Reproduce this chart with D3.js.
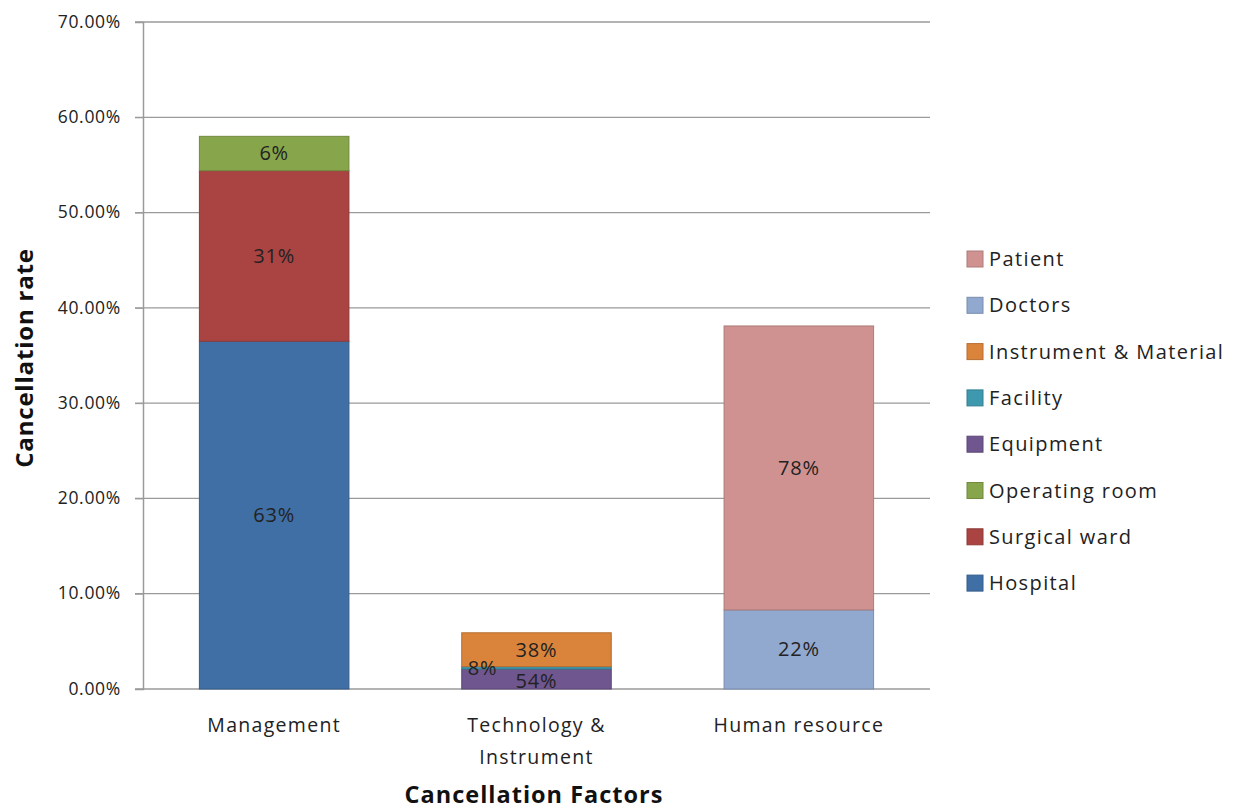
<!DOCTYPE html>
<html>
<head>
<meta charset="utf-8">
<script src="https://cdn.jsdelivr.net/npm/d3@7"></script>
<style>
  html, body { margin: 0; padding: 0; background: #fff; }
  svg { display: block; font-family: "Open Sans", "Liberation Sans", sans-serif; }
</style>
</head>
<body>
<svg id="chart" width="1239" height="812"></svg>
<script>
// ---- data ----
const categories = ["Management", "Technology & Instrument", "Human resource"];
const categoryLines = [["Management"], ["Technology &", "Instrument"], ["Human resource"]];
const seriesNames = ["Hospital", "Surgical ward", "Operating room", "Equipment", "Facility", "Instrument & Material", "Doctors", "Patient"];
const seriesColors = ["#3F6FA5", "#A94442", "#87A54B", "#6F568E", "#3E98AE", "#DA843B", "#91A8CF", "#CF9291"];
// values in percent, per category (order of categories)
const hospital      = [36.5, 0, 0];
const surgicalWard  = [17.9, 0, 0];
const operatingRoom = [3.6, 0, 0];
const equipment     = [0, 2.1, 0];
const facility      = [0, 0.25, 0];
const instrument    = [0, 3.55, 0];
const doctors       = [0, 0, 8.3];
const patient       = [0, 0, 29.8];
const seriesValues = [hospital, surgicalWard, operatingRoom, equipment, facility, instrument, doctors, patient];
// data labels (share within the category)
const seriesLabels = [
  ["63%", "", ""], ["31%", "", ""], ["6%", "", ""],
  ["", "54%", ""], ["", "8%", ""], ["", "38%", ""],
  ["", "", "22%"], ["", "", "78%"]
];
const yTicks = [0, 10, 20, 30, 40, 50, 60, 70];

// ---- layout ----
const svg = d3.select("#chart");
const margin = { left: 143, right: 930, top: 22, bottom: 689 };

const x = d3.scaleBand().domain(categories).range([margin.left, margin.right]).paddingInner(0.43).paddingOuter(0.215);
const y = d3.scaleLinear().domain([0, 70]).range([margin.bottom, margin.top]);

// gridlines
svg.append("g")
  .selectAll("line").data(yTicks).join("line")
  .attr("x1", margin.left - 8).attr("x2", margin.right)
  .attr("y1", d => y(d)).attr("y2", d => y(d))
  .attr("stroke", "#9a9a9a").attr("stroke-width", 1.3);

// y axis
const yAxis = d3.axisLeft(y).tickValues(yTicks).tickSize(8).tickFormat(d => d.toFixed(2) + "%");
const gy = svg.append("g").attr("transform", `translate(${margin.left},0)`).call(yAxis);
gy.select(".domain").attr("stroke", "#9a9a9a").attr("stroke-width", 1.5);
gy.selectAll(".tick line").attr("stroke", "#9a9a9a");
gy.selectAll("text").attr("font-size", 17.5).attr("letter-spacing", 0.7).attr("fill", "#222").attr("x", -22).attr("dy", "0.3em")
  .attr("font-family", "Open Sans, sans-serif");

// stacked data
const rows = categories.map((c, i) => {
  const r = { category: c };
  seriesNames.forEach((s, j) => r[s] = seriesValues[j][i]);
  return r;
});
const stack = d3.stack().keys(seriesNames);
const stacked = stack(rows);

const layers = svg.append("g").selectAll("g").data(stacked).join("g")
  .attr("fill", (d, i) => seriesColors[i])
  .attr("stroke", (d, i) => d3.color(seriesColors[i]).darker(0.5));

layers.selectAll("rect").data(d => d.filter(p => p[1] - p[0] > 0)).join("rect")
  .attr("x", d => x(d.data.category))
  .attr("width", x.bandwidth())
  .attr("y", d => y(d[1]))
  .attr("height", d => y(d[0]) - y(d[1]))
  .attr("stroke-width", 1);

// data labels
const labelOffsetX = { "8%": -54 };
const labelOffsetY = { "54%": 2 };
stacked.forEach((layer, j) => {
  layer.forEach((p, i) => {
    const t = seriesLabels[j][i];
    if (!t) return;
    svg.append("text")
      .attr("x", x(p.data.category) + x.bandwidth() / 2 + (labelOffsetX[t] || 0))
      .attr("y", (y(p[0]) + y(p[1])) / 2 + (labelOffsetY[t] || 0))
      .attr("dy", "0.35em")
      .attr("text-anchor", "middle")
      .attr("font-size", 20)
      .attr("letter-spacing", 0.8)
      .attr("fill", "#222")
      .text(t);
  });
});

// x category labels
categories.forEach((c, i) => {
  const t = svg.append("text")
    .attr("x", x(c) + x.bandwidth() / 2)
    .attr("y", 732)
    .attr("text-anchor", "middle")
    .attr("font-size", 19.5)
    .attr("letter-spacing", 1.3)
    .attr("fill", "#222");
  categoryLines[i].forEach((line, k) => {
    t.append("tspan").attr("x", x(c) + x.bandwidth() / 2).attr("dy", k === 0 ? 0 : 32).text(line);
  });
});

// axis titles
svg.append("text")
  .attr("transform", `translate(33,358) rotate(-90)`)
  .attr("text-anchor", "middle")
  .attr("font-size", 24).attr("letter-spacing", 0.8).attr("font-weight", "bold").attr("fill", "#111")
  .text("Cancellation rate");
svg.append("text")
  .attr("x", 534).attr("y", 803)
  .attr("text-anchor", "middle")
  .attr("font-size", 23.5).attr("letter-spacing", 1).attr("font-weight", "bold").attr("fill", "#111")
  .text("Cancellation Factors");

// legend (reverse order, top = Patient)
const legendOrder = seriesNames.map((s, i) => i).reverse();
const legend = svg.append("g").selectAll("g").data(legendOrder).join("g")
  .attr("transform", (d, k) => `translate(967,${251 + k * 46.3})`);
legend.append("rect").attr("width", 16).attr("height", 16)
  .attr("fill", d => seriesColors[d]).attr("stroke", d => d3.color(seriesColors[d]).darker(0.5)).attr("stroke-width", 1);
legend.append("text").attr("x", 22).attr("y", 8).attr("dy", "0.35em")
  .attr("font-size", 20).attr("letter-spacing", 1.4).attr("fill", "#222")
  .text(d => seriesNames[d]);
</script>
</body>
</html>
